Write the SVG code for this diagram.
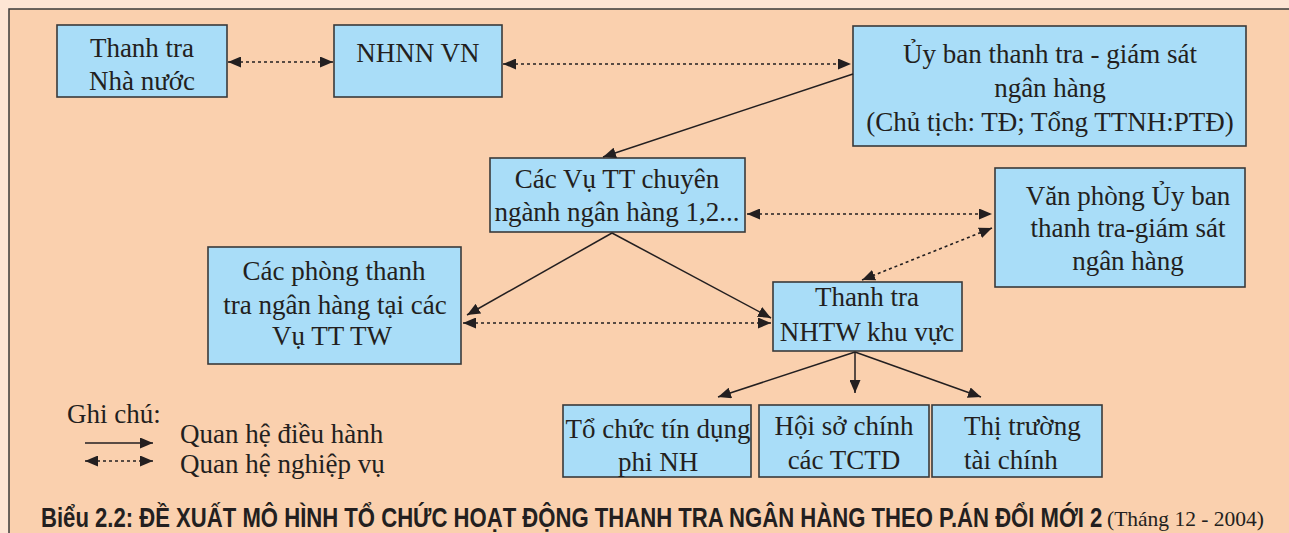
<svg xmlns="http://www.w3.org/2000/svg" width="1289" height="533" viewBox="0 0 1289 533">
<defs>
<style>
.box{fill:#A9DDF8;stroke:#3a3a3a;stroke-width:1.6}
.t{font-family:"Liberation Serif","Times New Roman","DejaVu Serif",serif;font-size:27px;fill:#231f20;text-anchor:middle}
.tl{font-family:"Liberation Serif","Times New Roman","DejaVu Serif",serif;font-size:27px;fill:#231f20}
.solid{fill:none;stroke:#231f20;stroke-width:1.5;marker-end:url(#ah)}
.dot{fill:none;stroke:#231f20;stroke-width:1.6;stroke-dasharray:3 3;marker-start:url(#ah);marker-end:url(#ah)}
.cap{font-family:"Liberation Sans",Arial,sans-serif;font-weight:bold;font-size:27px;fill:#231f20}
</style>
<marker id="ah" viewBox="0 0 13 11" refX="13" refY="5.5" markerWidth="13" markerHeight="11" markerUnits="userSpaceOnUse" orient="auto-start-reverse">
<path d="M0,0 L13,5.5 L0,11 z" fill="#231f20"/>
</marker>
</defs>
<rect x="0" y="0" width="1289" height="533" fill="#FDE5D4"/>
<rect x="9" y="9" width="1290" height="540" fill="#FAD0AE" stroke="#3a3a3a" stroke-width="1.5"/>

<g id="n1"><rect class="box" x="57" y="25" width="170" height="72"/>
<text class="t" x="142" y="57">Thanh tra</text><text class="t" x="142" y="90">Nhà nước</text></g>
<g id="n2"><rect class="box" x="334" y="25" width="168" height="72"/>
<text class="t" x="418" y="62">NHNN VN</text></g>
<g id="n3"><rect class="box" x="853" y="26" width="393" height="120"/>
<text class="t" x="1050" y="63">Ủy ban thanh tra - giám sát</text><text class="t" x="1050" y="97">ngân hàng</text><text class="t" x="1050" y="131">(Chủ tịch: TĐ; Tổng TTNH:PTĐ)</text></g>
<g id="n4"><rect class="box" x="490" y="158" width="255" height="74"/>
<text class="t" x="617" y="188">Các Vụ TT chuyên</text><text class="t" x="617" y="221">ngành ngân hàng 1,2...</text></g>
<g id="n5"><rect class="box" x="995" y="168" width="250" height="119"/>
<text class="t" x="1128" y="205">Văn phòng Ủy ban</text><text class="t" x="1128" y="237">thanh tra-giám sát</text><text class="t" x="1128" y="270">ngân hàng</text></g>
<g id="n6"><rect class="box" x="208" y="247" width="253" height="117"/>
<text class="t" x="334" y="280">Các phòng thanh</text><text class="t" x="335" y="314">tra ngân hàng tại các</text><text class="t" x="332" y="345">Vụ TT TW</text></g>
<g id="n7"><rect class="box" x="773" y="282" width="189" height="69"/>
<text class="t" x="867" y="306">Thanh tra</text><text class="t" x="867" y="341">NHTW khu vực</text></g>
<g id="n8"><rect class="box" x="563" y="405" width="188" height="72"/>
<text class="t" x="658" y="438">Tổ chức tín dụng</text><text class="t" x="658" y="471">phi NH</text></g>
<g id="n9"><rect class="box" x="759" y="405" width="170" height="72"/>
<text class="t" x="844" y="435">Hội sở chính</text><text class="t" x="844" y="469">các TCTD</text></g>
<g id="n10"><rect class="box" x="932" y="405" width="170" height="72"/>
<text class="tl" x="964" y="435">Thị trường</text><text class="tl" x="964" y="469">tài chính</text></g>

<g id="connectors">
<line class="dot" x1="228" y1="62" x2="333" y2="62"/>
<line class="dot" x1="503" y1="64" x2="851" y2="64"/>
<line class="solid" x1="853" y1="74" x2="603" y2="157"/>
<line class="dot" x1="747" y1="214" x2="992" y2="214"/>
<line class="dot" x1="992" y1="228" x2="862" y2="280"/>
<line class="solid" x1="612" y1="233" x2="467" y2="315"/>
<line class="solid" x1="612" y1="233" x2="771" y2="318"/>
<line class="dot" x1="463" y1="323" x2="771" y2="323"/>
<line class="solid" x1="855" y1="352" x2="718" y2="397"/>
<line class="solid" x1="855" y1="352" x2="855" y2="393"/>
<line class="solid" x1="855" y1="352" x2="981" y2="397"/>
</g>

<g id="legend">
<text class="tl" x="67" y="423">Ghi chú:</text>
<line class="solid" x1="85" y1="443" x2="153" y2="443"/>
<line class="dot" x1="85" y1="461" x2="153" y2="461"/>
<text class="tl" x="180" y="443">Quan hệ điều hành</text>
<text class="tl" x="180" y="473">Quan hệ nghiệp vụ</text>
</g>

<g id="caption">
<g transform="translate(41,527) scale(0.819,1)">
<text class="cap" x="0" y="0" textLength="1296" lengthAdjust="spacingAndGlyphs">Biểu 2.2: ĐỀ XUẤT MÔ HÌNH TỔ CHỨC HOẠT ĐỘNG THANH TRA NGÂN HÀNG THEO P.ÁN ĐỔI MỚI 2</text>
</g>
<text class="tl" x="1107" y="526" style="font-size:21.5px">(Tháng 12 - 2004)</text>
</g>
</svg>
